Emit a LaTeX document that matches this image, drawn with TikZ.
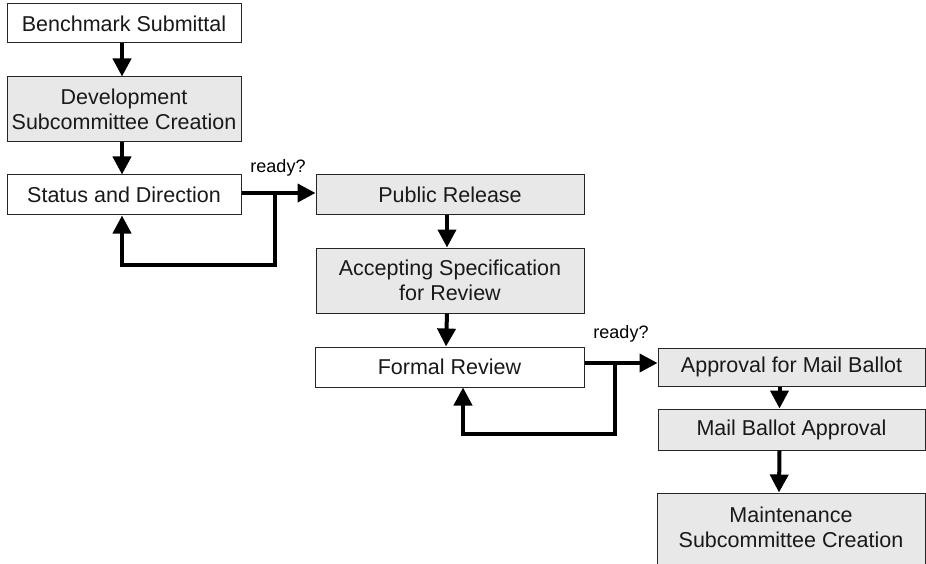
\documentclass[tikz,border=0pt]{standalone}
\usepackage{fontspec}
\setmainfont{Liberation Sans}
\usetikzlibrary{arrows.meta}
\begin{document}
\begin{tikzpicture}[x=1pt,y=-1pt,
  stepbox/.style={draw=black!85, line width=1pt, inner sep=0pt, align=center,
    font=\fontsize{21.5}{25}\selectfont, text=black!90},
  plain/.style={stepbox, fill=white},
  shaded/.style={stepbox, fill=black!9},
  flow/.style={line width=4pt, -{Triangle[length=18pt,width=18pt]}},
  lbl/.style={font=\fontsize{18}{20}\selectfont, inner sep=0pt}]
\clip (0,0) rectangle (926,564);
\fill[white] (0,0) rectangle (926,564);

% first column
\node[plain,  minimum width=234, minimum height=39] (bench) at (124,23.5) {Benchmark Submittal};
\node[shaded, minimum width=234, minimum height=65] (devsc) at (124,109.5) {Development\\Subcommittee Creation};
\node[plain,  minimum width=234, minimum height=40] (status) at (124,195) {Status and Direction};

% second column
\node[shaded, minimum width=268, minimum height=40] (public) at (450,195) {Public Release};
\node[shaded, minimum width=268, minimum height=65] (accept) at (450,280.5) {Accepting Specification\\for Review};
\node[plain,  minimum width=269, minimum height=40] (formal) at (449.5,367) {Formal Review};

% third column
\node[shaded, minimum width=267, minimum height=38] (approval) at (791.5,367) {Approval for Mail Ballot};
\node[shaded, minimum width=267, minimum height=41] (mail) at (791.5,429.5) {Mail Ballot Approval};
\node[shaded, minimum width=268, minimum height=84] (maint) at (791,535) {};
\node[align=center, font=\fontsize{21.5}{25}\selectfont, text=black!90] (mainttext) at (791,527) {Maintenance\\Subcommittee Creation};

% straight flow
\draw[flow] ([xshift=-2]bench.south) -- ([xshift=-2]devsc.north);
\draw[flow] ([xshift=-2]devsc.south) -- ([xshift=-2]status.north);
\draw[flow] ([xshift=-3]public.south) -- ([xshift=-3]accept.north);
\draw[flow] ([xshift=-3]accept.south) -- ([xshift=-3.5]formal.north);
\draw[flow] ([xshift=-12]approval.south) -- ([xshift=-12]mail.north);
\draw[flow] ([xshift=-12]mail.south) -- ([xshift=-12]maint.north);

% decision loop after status and direction
\coordinate (j1) at (275,193);
\draw[flow] (status.east |- j1) -- (public.west |- j1);
\draw[flow] (j1) -- (275,265) -- (122,265) -- ([xshift=-2]status.south);
\node[lbl] (ready1) at (278,168) {ready?};

% decision loop after formal review
\coordinate (j2) at (615,363);
\draw[flow] (formal.east |- j2) -- (approval.west |- j2);
\draw[flow] (j2) -- (615,434) -- (463,434) -- ([xshift=13.5]formal.south);
\node[lbl] (ready2) at (621,334) {ready?};
\end{tikzpicture}
\end{document}
